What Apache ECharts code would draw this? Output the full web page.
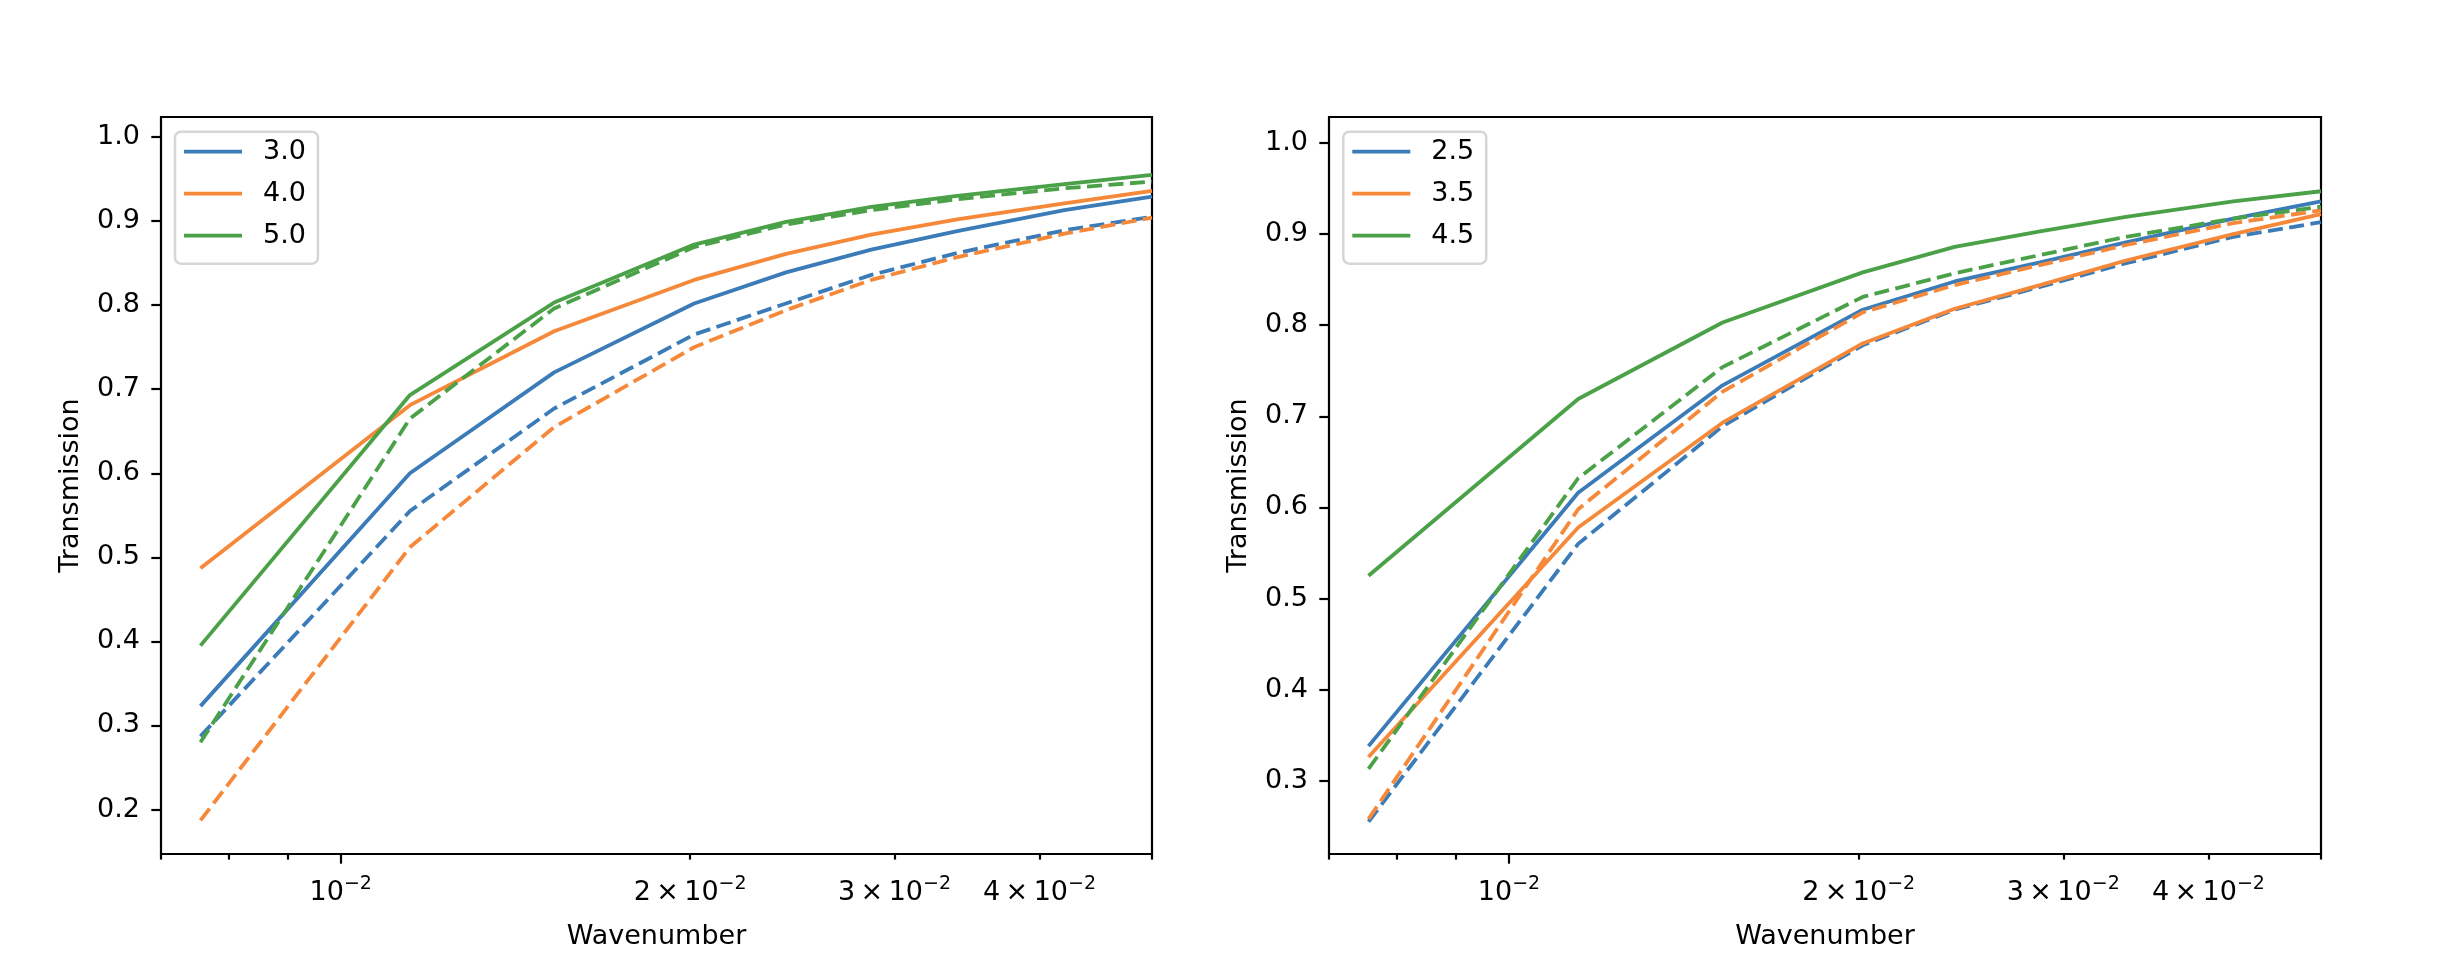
<!DOCTYPE html>
<html>
<head>
<meta charset="utf-8">
<script src="https://cdn.jsdelivr.net/npm/echarts@6/dist/echarts.min.js"></script>
<style>
html,body{margin:0;padding:0;background:#ffffff;}
#chart{width:2448px;height:960px;}
</style>
</head>
<body>
<div id="chart"></div>
<script>
// ---------------- data ----------------
const wavenumbers = [0.00757, 0.01147, 0.01527, 0.02016, 0.02419, 0.02865, 0.03397, 0.04202, 0.05];

// left panel
const leftLabels = ['3.0', '4.0', '5.0'];
const left30Solid  = [0.323, 0.600, 0.720, 0.802, 0.839, 0.866, 0.888, 0.913, 0.929];
const left30Dashed = [0.287, 0.555, 0.677, 0.765, 0.802, 0.836, 0.862, 0.889, 0.905];
const left40Solid  = [0.487, 0.681, 0.769, 0.830, 0.861, 0.884, 0.902, 0.921, 0.936];
const left40Dashed = [0.187, 0.512, 0.655, 0.750, 0.794, 0.830, 0.857, 0.885, 0.904];
const left50Solid  = [0.395, 0.693, 0.803, 0.872, 0.899, 0.917, 0.930, 0.944, 0.955];
const left50Dashed = [0.280, 0.665, 0.796, 0.869, 0.896, 0.913, 0.926, 0.939, 0.947];

// right panel
const rightLabels = ['2.5', '3.5', '4.5'];
const right25Solid  = [0.338, 0.616, 0.734, 0.817, 0.848, 0.869, 0.891, 0.917, 0.936];
const right25Dashed = [0.255, 0.560, 0.689, 0.778, 0.817, 0.842, 0.868, 0.897, 0.913];
const right35Solid  = [0.326, 0.578, 0.693, 0.780, 0.818, 0.844, 0.871, 0.900, 0.922];
const right35Dashed = [0.258, 0.598, 0.727, 0.814, 0.844, 0.866, 0.888, 0.912, 0.926];
const right45Solid  = [0.525, 0.719, 0.803, 0.858, 0.886, 0.903, 0.919, 0.936, 0.947];
const right45Dashed = [0.313, 0.632, 0.754, 0.831, 0.857, 0.877, 0.897, 0.917, 0.930];

// axes / ticks
const xRange = [0.007, 0.05];
const xMajorTicks = [0.01];
const xMinorTicks = [0.007, 0.008, 0.009, 0.02, 0.03, 0.04, 0.05];
const xLabelValues = [0.01, 0.02, 0.03, 0.04];
const xLabelMantissa = ['', '2', '3', '4'];
const leftYRange = [0.1471, 1.0238];
const rightYRange = [0.2196, 1.0285];
const leftYTicks = [0.2, 0.3, 0.4, 0.5, 0.6, 0.7, 0.8, 0.9, 1.0];
const rightYTicks = [0.3, 0.4, 0.5, 0.6, 0.7, 0.8, 0.9, 1.0];

// ---------------- styling ----------------
const FONT = 'DejaVu Sans';
const FS = 27;
const COLORS = ['#3a7bb8', '#f6883a', '#4aa147'];
const LW = 3.8;
const DASH = [15, 6.5];
const SPINE = 2.2;

const grids = [
  {left: 161, top: 117, width: 991, height: 737},
  {left: 1329, top: 117, width: 992, height: 737}
];

function xLabelFmt(val) {
  const i = xLabelValues.findIndex(v => Math.abs(v - val) / v < 1e-6);
  if (i < 0) return '';
  const m = xLabelMantissa[i];
  return '{b|' + (m ? m + '\u2009\u00d7\u2009' : '') + '10}{s|\u22122}';
}
const xRich = {
  b: {fontSize: FS, fontFamily: FONT, color: '#000', lineHeight: 36},
  s: {fontSize: 19, fontFamily: FONT, color: '#000', lineHeight: 19, verticalAlign: 'top'}
};

function makeX(gridIndex, major) {
  return {
    type: 'log', logBase: 10, gridIndex: gridIndex,
    min: xRange[0], max: xRange[1], position: 'bottom',
    axisLine: {show: false},
    splitLine: {show: false},
    minorTick: {show: false},
    axisTick: {show: true, inside: false, length: major ? 9.7 : 5.6,
      lineStyle: {color: '#000', width: SPINE},
      customValues: major ? xMajorTicks : xMinorTicks},
    axisLabel: {show: true, margin: 21,
      customValues: major ? [xLabelValues[0]] : xLabelValues.slice(1),
      formatter: xLabelFmt, rich: xRich},
    name: major ? 'Wavenumber' : '',
    nameLocation: 'middle', nameGap: 67,
    nameTextStyle: {fontSize: FS, fontFamily: FONT, color: '#000', lineHeight: 32}
  };
}

function makeY(gridIndex, range, ticks) {
  return {
    type: 'value', gridIndex: gridIndex, min: range[0], max: range[1],
    axisLine: {show: false},
    splitLine: {show: false},
    axisTick: {show: true, inside: false, length: 9.7,
      lineStyle: {color: '#000', width: SPINE}, customValues: ticks},
    axisLabel: {show: true, margin: 21, customValues: ticks,
      formatter: v => v.toFixed(1),
      fontSize: FS, fontFamily: FONT, color: '#000'},
    name: 'Transmission', nameLocation: 'middle', nameGap: 75,
    nameTextStyle: {fontSize: FS, fontFamily: FONT, color: '#000', lineHeight: 30}
  };
}

function line(name, values, color, dashed, xi, yi) {
  return {
    type: 'line', name: name, xAxisIndex: xi, yAxisIndex: yi,
    data: wavenumbers.map((x, i) => [x, values[i]]),
    symbol: 'none', showSymbol: false, silent: true,
    lineStyle: {color: color, width: LW, type: dashed ? DASH : 'solid', cap: 'butt'},
    itemStyle: {color: color},
    emphasis: {disabled: true},
    animation: false
  };
}

function makeLegend(left, labels) {
  return {
    orient: 'vertical', left: left, top: 131.7,
    data: labels, selectedMode: false,
    icon: 'rect', itemWidth: 58, itemHeight: 3.8, itemGap: 14,
    textStyle: {fontSize: FS, fontFamily: FONT, color: '#000', lineHeight: 28, padding: [0, 0, 0, 16]},
    backgroundColor: 'rgba(255,255,255,0.8)',
    borderColor: '#d6d6d6', borderWidth: 2.5, borderRadius: 6,
    padding: [6, 12, 14, 9]
  };
}

const leftSolids = [left30Solid, left40Solid, left50Solid];
const leftDashes = [left30Dashed, left40Dashed, left50Dashed];
const rightSolids = [right25Solid, right35Solid, right45Solid];
const rightDashes = [right25Dashed, right35Dashed, right45Dashed];

const series = [];
for (let k = 0; k < 3; k++) {
  series.push(line(leftLabels[k], leftSolids[k], COLORS[k], false, 0, 0));
  series.push(line(leftLabels[k] + ' dashed', leftDashes[k], COLORS[k], true, 0, 0));
}
for (let k = 0; k < 3; k++) {
  series.push(line(rightLabels[k], rightSolids[k], COLORS[k], false, 2, 1));
  series.push(line(rightLabels[k] + ' dashed', rightDashes[k], COLORS[k], true, 2, 1));
}

const chart = echarts.init(document.getElementById('chart'), null, {renderer: 'canvas'});
chart.setOption({
  backgroundColor: '#ffffff',
  animation: false,
  grid: grids.map(g => Object.assign({show: true, borderColor: '#000', borderWidth: SPINE, backgroundColor: 'transparent', containLabel: false}, g)),
  xAxis: [makeX(0, true), makeX(0, false), makeX(1, true), makeX(1, false)],
  yAxis: [makeY(0, leftYRange, leftYTicks), makeY(1, rightYRange, rightYTicks)],
  legend: [makeLegend(175, leftLabels), makeLegend(1343.3, rightLabels)],
  series: series
});
</script>
</body>
</html>
